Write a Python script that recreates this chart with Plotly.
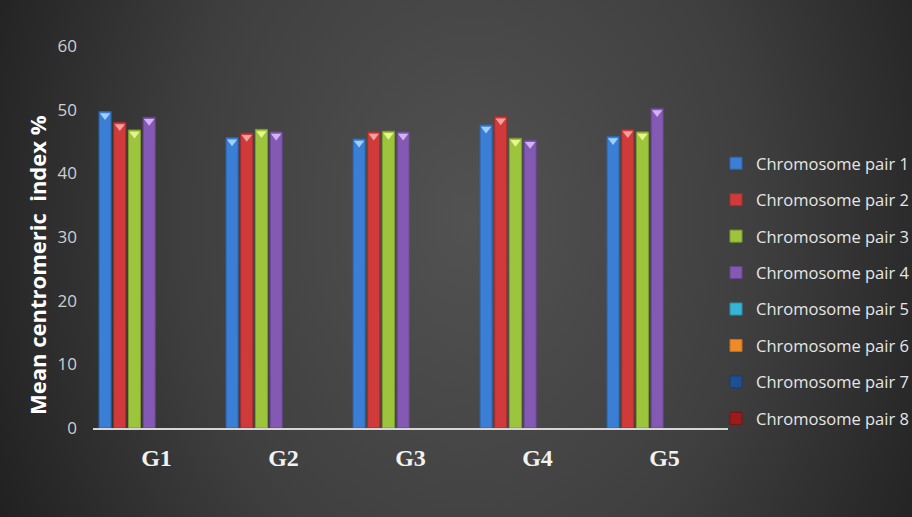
import base64
import plotly.graph_objects as go

groups = ["G1", "G2", "G3", "G4", "G5"]
series_names = ["Chromosome pair 1", "Chromosome pair 2", "Chromosome pair 3", "Chromosome pair 4",
                "Chromosome pair 5", "Chromosome pair 6", "Chromosome pair 7", "Chromosome pair 8"]
pair1 = [49.7, 45.6, 45.4, 47.6, 45.8]
pair2 = [48.0, 46.3, 46.5, 48.9, 46.9]
pair3 = [46.8, 46.9, 46.6, 45.5, 46.5]
pair4 = [48.8, 46.5, 46.5, 45.2, 50.2]
pair5 = [None, None, None, None, None]
pair6 = [None, None, None, None, None]
pair7 = [None, None, None, None, None]
pair8 = [None, None, None, None, None]
series_values = [pair1, pair2, pair3, pair4, pair5, pair6, pair7, pair8]
colors = ["#3a7ed6", "#d13a3a", "#9cc43c", "#8459b3", "#35b5d6", "#f08a26", "#1f4f91", "#9c1c1c"]
edge_colors = ["#2c64ad", "#a92c2c", "#7c9e2c", "#684491", "#2890ab", "#c46e1c", "#173c70", "#7a1414"]
cap_colors = ["#9fd0fa", "#f4a0a0", "#e6f58a", "#d2b2f2", "#a8ecf8", "#fcd090", "#8fb4e8", "#e08080"]
y_ticks = [0, 10, 20, 30, 40, 50, 60]

W, H = 912, 517
L, R, T, B = 93, 184, 46, 89
pw, ph = W - L - R, H - T - B

svg = f'''<svg xmlns="http://www.w3.org/2000/svg" width="{W}" height="{H}" viewBox="0 0 {W} {H}">
<defs><radialGradient id="g" gradientUnits="userSpaceOnUse" cx="470" cy="220" r="520"
 gradientTransform="translate(470 220) scale(1 1.3) translate(-470 -220)">
<stop offset="0" stop-color="#525252"/><stop offset="0.55" stop-color="#3f3f3f"/>
<stop offset="1" stop-color="#212121"/></radialGradient></defs>
<rect width="{W}" height="{H}" fill="url(#g)"/></svg>'''
bg_src = "data:image/svg+xml;base64," + base64.b64encode(svg.encode()).decode()

fig = go.Figure()
for name, vals, col, ecol in zip(series_names, series_values, colors, edge_colors):
    fig.add_trace(go.Bar(x=groups, y=vals, name=name,
                         marker=dict(color=col, line=dict(width=1, color=ecol)),
                         legendgroup=name))
for name, vals, ccol in zip(series_names, series_values, cap_colors):
    fig.add_trace(go.Scatter(x=groups, y=vals, mode="markers", showlegend=False,
                             legendgroup=name, hoverinfo="skip", cliponaxis=False,
                             marker=dict(symbol="triangle-down", angle=0, standoff=4,
                                         size=9, color=ccol, line=dict(width=0))))

fig.add_layout_image(dict(source=bg_src, xref="paper", yref="paper",
                          x=-L / pw, y=1 + T / ph, sizex=W / pw, sizey=H / ph,
                          sizing="stretch", xanchor="left", yanchor="top", layer="below"))

fig.add_annotation(text="Mean centromeric  index %", xref="paper", yref="paper",
                   x=(37 - L) / pw, y=(H - B - 265) / ph, xanchor="center", yanchor="middle",
                   textangle=-90, showarrow=False,
                   font=dict(family="Open Sans", size=22, color="#ffffff", weight="bold"))

fig.update_layout(
    width=W, height=H, margin=dict(l=L, r=R, t=T, b=B, autoexpand=False),
    paper_bgcolor="#2e2e2e", plot_bgcolor="rgba(0,0,0,0)",
    barmode="group", bargap=0.074, bargroupgap=0.18,
    scattermode="group", scattergap=0.074,
    showlegend=True,
    legend=dict(x=(716 - L) / pw, xanchor="left", y=1 - (146 - T) / ph, yanchor="top",
                font=dict(family="Open Sans", size=16.5, color="#e6e6e6"),
                tracegroupgap=12, bgcolor="rgba(0,0,0,0)"),
    xaxis=dict(showgrid=False, showline=True, linecolor="#d6d6d6", linewidth=2,
               ticks="", ticklabelstandoff=7,
               tickfont=dict(family="Liberation Serif", size=24, color="#f2f2f2", weight="bold")),
    yaxis=dict(range=[0, 60], tickvals=y_ticks, showgrid=False, zeroline=False, showline=False,
               ticks="", ticklabelstandoff=15,
               tickfont=dict(family="Open Sans", size=17, color="#cfcfcf")),
)

fig.write_html("out.html")
